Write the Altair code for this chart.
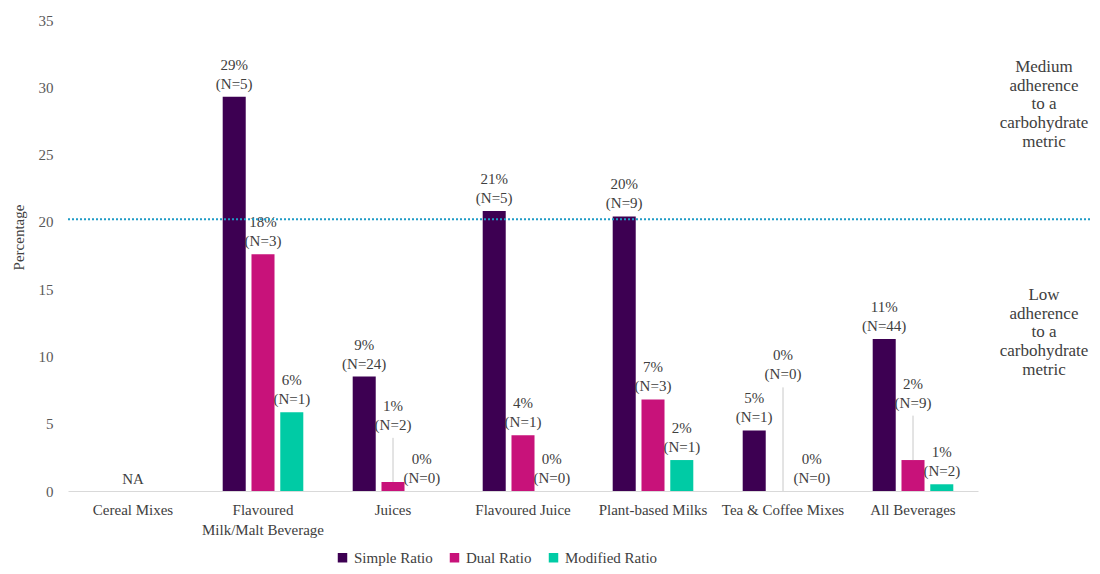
import altair as alt
import pandas as pd

categories = ["Cereal Mixes", "Flavoured Milk/Malt Beverage", "Juices", "Flavoured Juice",
              "Plant-based Milks", "Tea & Coffee Mixes", "All Beverages"]
series = ["Simple Ratio", "Dual Ratio", "Modified Ratio"]
colors = ["#3d0052", "#c8127a", "#00cba5"]

simple_vals = [None, 29.3, 8.5, 20.8, 20.4, 4.5, 11.3]
dual_vals = [None, 17.6, 0.67, 4.15, 6.8, 0.0, 2.3]
modified_vals = [None, 5.85, 0.0, 0.0, 2.3, 0.0, 0.5]

simple_pct = [None, 29, 9, 21, 20, 5, 11]
dual_pct = [None, 18, 1, 4, 7, 0, 2]
modified_pct = [None, 6, 0, 0, 2, 0, 1]

simple_n = [None, 5, 24, 5, 9, 1, 44]
dual_n = [None, 3, 2, 1, 3, 0, 9]
modified_n = [None, 1, 0, 0, 1, 0, 2]

# labels lifted above the bar (with leader line): (category, series, label height)
raised_labels = [("Juices", "Dual Ratio", 3.95),
                 ("Tea & Coffee Mixes", "Dual Ratio", 7.7),
                 ("All Beverages", "Dual Ratio", 5.6)]

threshold = 20.2
medium_text = "Medium\nadherence\nto a\ncarbohydrate\nmetric"
low_text = "Low\nadherence\nto a\ncarbohydrate\nmetric"
medium_y = 31.5
low_y = 14.56

rows = []
raised = {(c, s): h for c, s, h in raised_labels}
for s, vals, pcts, ns in [(series[0], simple_vals, simple_pct, simple_n),
                          (series[1], dual_vals, dual_pct, dual_n),
                          (series[2], modified_vals, modified_pct, modified_n)]:
    for c, v, p, n in zip(categories, vals, pcts, ns):
        if v is None:
            continue
        rows.append({"category": c, "series": s, "value": v,
                     "label": f"{p}%\n(N={n})",
                     "label_y": raised.get((c, s), v),
                     "raised": (c, s) in raised})
df = pd.DataFrame(rows)
na_df = pd.DataFrame({"category": ["Cereal Mixes"], "value": [0.0], "label": ["NA"]})

FONT = "Liberation Serif"

x_enc = alt.X("category:N", sort=categories,
              scale=alt.Scale(paddingInner=0.38, paddingOuter=0.19),
              axis=alt.Axis(title=None, labelAngle=0, ticks=False, domainColor="#d9d9d9",
                            labelPadding=11, labelFontSize=15, labelColor="#404040",
                            labelFont=FONT, labelLineHeight=20,
                            labelExpr="datum.label == 'Flavoured Milk/Malt Beverage' ? ['Flavoured', 'Milk/Malt Beverage'] : datum.label"))
xoff = alt.XOffset("series:N", sort=series, scale=alt.Scale(paddingInner=0.2))
y_scale = alt.Scale(domain=[0, 35], nice=False)

bars = alt.Chart(df).mark_bar().encode(
    x=x_enc,
    xOffset=xoff,
    y=alt.Y("value:Q", scale=y_scale,
            axis=alt.Axis(title="Percentage", values=[0, 5, 10, 15, 20, 25, 30, 35],
                          domain=False, ticks=False, grid=False, labelPadding=15,
                          labelFontSize=15, labelColor="#595959", labelFont=FONT,
                          titleFont=FONT, titleFontSize=15, titleFontWeight="normal",
                          titleColor="#404040", titleX=-50, titleY=217,
                          titleBaseline="middle")),
    color=alt.Color("series:N", sort=series,
                    scale=alt.Scale(domain=series, range=colors),
                    legend=alt.Legend(title=None, orient="none", direction="horizontal",
                                      legendX=267, legendY=530, symbolType="square",
                                      symbolSize=90, symbolStrokeWidth=0,
                                      labelFont=FONT, labelFontSize=15,
                                      labelColor="#404040", columnPadding=14,
                                      labelOffset=4)),
)

labels = alt.Chart(df).mark_text(lineBreak="\n", baseline="bottom", dy=-24, fontSize=15,
                                 font=FONT, color="#404040", lineHeight=19).encode(
    x=alt.X("category:N", sort=categories),
    xOffset=alt.XOffset("series:N", sort=series),
    y=alt.Y("label_y:Q"),
    text="label:N",
)

leaders = alt.Chart(df).transform_filter("datum.raised").mark_rule(
    color="#c8c8c8", strokeWidth=1).encode(
    x=alt.X("category:N", sort=categories),
    xOffset=alt.XOffset("series:N", sort=series),
    y="value:Q",
    y2="label_y:Q",
)

na_text = alt.Chart(na_df).mark_text(baseline="bottom", dy=-4, fontSize=15, font=FONT,
                                     color="#404040").encode(
    x=alt.X("category:N", sort=categories),
    y="value:Q",
    text="label:N",
)

ref = alt.Chart(na_df).mark_rule(color="#1f9bc6", strokeWidth=2, strokeDash=[2, 2]).encode(
    y=alt.datum(threshold), x=alt.value(0), x2=alt.value(1027))

ann_medium = alt.Chart(na_df).mark_text(lineBreak="\n", fontSize=17, font=FONT,
                                        color="#404040", lineHeight=18.7,
                                        baseline="middle", align="center").encode(
    x=alt.value(976), y=alt.datum(medium_y), text=alt.value(medium_text))
ann_low = alt.Chart(na_df).mark_text(lineBreak="\n", fontSize=17, font=FONT,
                                     color="#404040", lineHeight=18.7,
                                     baseline="middle", align="center").encode(
    x=alt.value(976), y=alt.datum(low_y), text=alt.value(low_text))

chart = alt.layer(bars, leaders, labels, na_text, ref, ann_medium, ann_low).properties(
    width=910, height=471,
    background="white",
    autosize=alt.AutoSizeParams(type="none"),
    padding={"left": 60, "top": 12, "right": 114, "bottom": 75},
).configure_view(strokeWidth=0, stroke="transparent")

chart.save("out.html", embed_options={"renderer": "svg", "actions": False})
